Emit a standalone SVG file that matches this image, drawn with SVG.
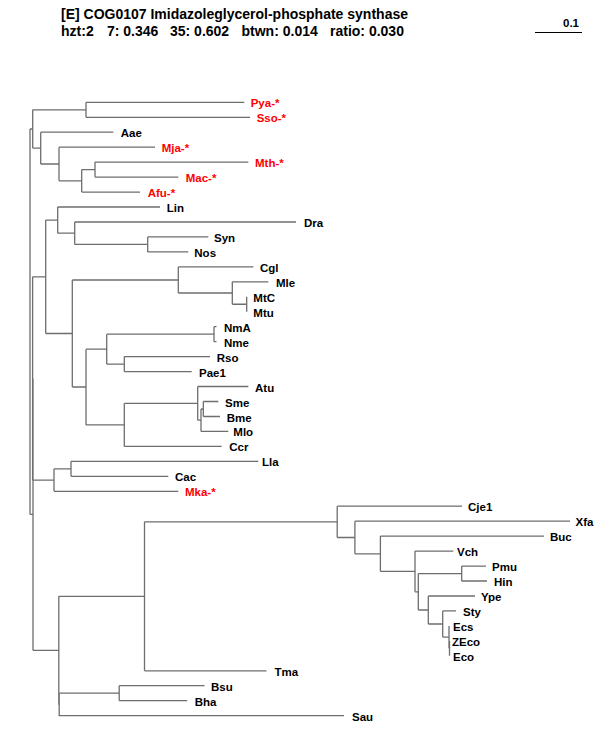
<svg xmlns="http://www.w3.org/2000/svg" width="600" height="750" viewBox="0 0 600 750">
<style>
text{font-family:"Liberation Sans",Arial,sans-serif;font-weight:bold;fill:#000}
.h{font-size:14px}
.l{font-size:11.5px}
.r{fill:#ff0000}
.br path{fill:none;stroke:#6e6e6e;stroke-width:1.3}
.sb{stroke:#000;stroke-width:1}
</style>
<rect width="600" height="750" fill="#fff"/>
<g id="header">
<text class="h" x="61" y="19">[E] COG0107 Imidazoleglycerol-phosphate synthase</text>
<text class="h" x="61" y="35.5">hzt:2</text>
<text class="h" x="107" y="35.5">7: 0.346</text>
<text class="h" x="170" y="35.5">35: 0.602</text>
<text class="h" x="241.5" y="35.5">btwn: 0.014</text>
<text class="h" x="330" y="35.5">ratio: 0.030</text>
</g>
<g id="scalebar">
<line class="sb" x1="535" y1="32.5" x2="582" y2="32.5"/>
<text class="l" x="563" y="27">0.1</text>
</g>
<g id="connectors" class="br">
<path d="M86 102.3V117.3M95 162.1V177.1M81.7 169.6V192.1M59 147.2V180.85M40.7 132.2V164M32.7 109.8V148.1M30 129V514.4"/>
<path d="M147.7 236.9V251.9M74.7 222V244.4M57.7 207V233.2M246.7 296.8V311.7M232.3 281.8V304.25M178.3 266.9V293M214 326.7V341.7M124.3 356.6V371.6M106.7 334.2V364.1M203.3 401.5V416.5M201 409V431.4M197.7 386.5V420.2M124.3 403.35V446.4M86 349.15V424.9M72.3 280V387M45.7 220.1V333.5"/>
<path d="M71 461.3V476.3M54 468.8V491.3M32.6 276.8V480.05M33 378.4V650.4"/>
<path d="M449.5 640.9V655.8M449 625.9V648.35M442.7 610.9V637.1M428.3 596V624M461.7 566.1V581M418.3 573.55V610M415 551.1V591.8M380.4 536.1V571.45M354.9 521.2V553.8M337.2 506.2V537.5M144.5 521.85V670.8M119.2 685.7V700.7M59.2 693.2V715.7M58.8 596.3V704.45"/>
<path d="M32.7 109.8H86M32.7 148.1H40.7M30 129H32.7M40.7 164H59M59 180.85H81.7M81.7 169.6H95M30 514.4H33M32.6 276.8H45.7M32.6 480.05H54M54 468.8H71M45.7 220.1H57.7M45.7 333.5H72.3M57.7 233.2H74.7M74.7 244.4H147.7M72.3 280H178.3M178.3 293H232.3M232.3 304.25H246.7M72.3 387H86M86 349.15H106.7M106.7 334.2H214M106.7 364.1H124.3M86 424.9H124.3M124.3 403.35H197.7M197.7 420.2H201M201 409H203.3"/>
<path d="M33 650.4H58.8M58.8 596.3H144.5M58.8 704.45H59.2M59.2 693.2H119.2M144.5 521.85H337.2M337.2 537.5H354.9M354.9 553.8H380.4M380.4 571.45H415M415 591.8H418.3M418.3 573.55H461.7M418.3 610H428.3M428.3 624H442.7M442.7 637.1H449M449 648.35H449.5"/>
<path d="M86 102.3H244.3M86 117.3H250M40.7 132.2H113.3M59 147.2H155M95 162.1H248.3M95 177.1H178.3M81.7 192.1H140M57.7 207H160M74.7 222H296M147.7 236.9H208.3M147.7 251.9H188.3M178.3 266.9H253.3M232.3 281.8H268.3M214 326.7H216.5M214 341.7H216.5M124.3 356.6H210M124.3 371.6H191.7M197.7 386.5H248.3M203.3 401.5H218.3M203.3 416.5H220M201 431.4H228.3M124.3 446.4H221.7M71 461.3H258.3M71 476.3H168.3M54 491.3H178.3"/>
<path d="M337.2 506.2H462M354.9 521.2H570M380.4 536.1H544M415 551.1H453.3M461.7 566.1H486M461.7 581H487M428.3 596H475M442.7 610.9H456M144.5 670.8H266.5M119.2 685.7H204.5M119.2 700.7H187.2M58.8 715.7H344"/>
</g>
<g id="Pya"><text class="l r" x="250.7" y="107.3">Pya-*</text></g>
<g id="Sso"><text class="l r" x="256.7" y="122.3">Sso-*</text></g>
<g id="Aae"><text class="l" x="120.7" y="137.2">Aae</text></g>
<g id="Mja"><text class="l r" x="161.7" y="152.2">Mja-*</text></g>
<g id="Mth"><text class="l r" x="255" y="167.1">Mth-*</text></g>
<g id="Mac"><text class="l r" x="185.7" y="182.1">Mac-*</text></g>
<g id="Afu"><text class="l r" x="147.7" y="197.1">Afu-*</text></g>
<g id="Lin"><text class="l" x="166.7" y="212">Lin</text></g>
<g id="Dra"><text class="l" x="304" y="227">Dra</text></g>
<g id="Syn"><text class="l" x="214" y="241.9">Syn</text></g>
<g id="Nos"><text class="l" x="194.3" y="256.9">Nos</text></g>
<g id="Cgl"><text class="l" x="260" y="271.9">Cgl</text></g>
<g id="Mle"><text class="l" x="276" y="286.8">Mle</text></g>
<g id="MtC"><text class="l" x="253.3" y="301.8">MtC</text></g>
<g id="Mtu"><text class="l" x="253.3" y="316.7">Mtu</text></g>
<g id="NmA"><text class="l" x="224" y="331.7">NmA</text></g>
<g id="Nme"><text class="l" x="224" y="346.7">Nme</text></g>
<g id="Rso"><text class="l" x="216.7" y="361.6">Rso</text></g>
<g id="Pae1"><text class="l" x="199" y="376.6">Pae1</text></g>
<g id="Atu"><text class="l" x="255" y="391.5">Atu</text></g>
<g id="Sme"><text class="l" x="225" y="406.5">Sme</text></g>
<g id="Bme"><text class="l" x="226.7" y="421.5">Bme</text></g>
<g id="Mlo"><text class="l" x="233.3" y="436.4">Mlo</text></g>
<g id="Ccr"><text class="l" x="229.3" y="451.4">Ccr</text></g>
<g id="Lla"><text class="l" x="262" y="466.3">Lla</text></g>
<g id="Cac"><text class="l" x="175" y="481.3">Cac</text></g>
<g id="Mka"><text class="l r" x="185" y="496.3">Mka-*</text></g>
<g id="Cje1"><text class="l" x="468" y="511.2">Cje1</text></g>
<g id="Xfa"><text class="l" x="575.5" y="526.2">Xfa</text></g>
<g id="Buc"><text class="l" x="550" y="541.1">Buc</text></g>
<g id="Vch"><text class="l" x="457" y="556.1">Vch</text></g>
<g id="Pmu"><text class="l" x="492" y="571.1">Pmu</text></g>
<g id="Hin"><text class="l" x="494" y="586">Hin</text></g>
<g id="Ype"><text class="l" x="481" y="601">Ype</text></g>
<g id="Sty"><text class="l" x="463" y="615.9">Sty</text></g>
<g id="Ecs"><text class="l" x="453" y="630.9">Ecs</text></g>
<g id="ZEco"><text class="l" x="452" y="645.9">ZEco</text></g>
<g id="Eco"><text class="l" x="453" y="660.8">Eco</text></g>
<g id="Tma"><text class="l" x="274.5" y="675.8">Tma</text></g>
<g id="Bsu"><text class="l" x="211" y="690.7">Bsu</text></g>
<g id="Bha"><text class="l" x="194.7" y="705.7">Bha</text></g>
<g id="Sau"><text class="l" x="352" y="720.7">Sau</text></g>
</svg>
